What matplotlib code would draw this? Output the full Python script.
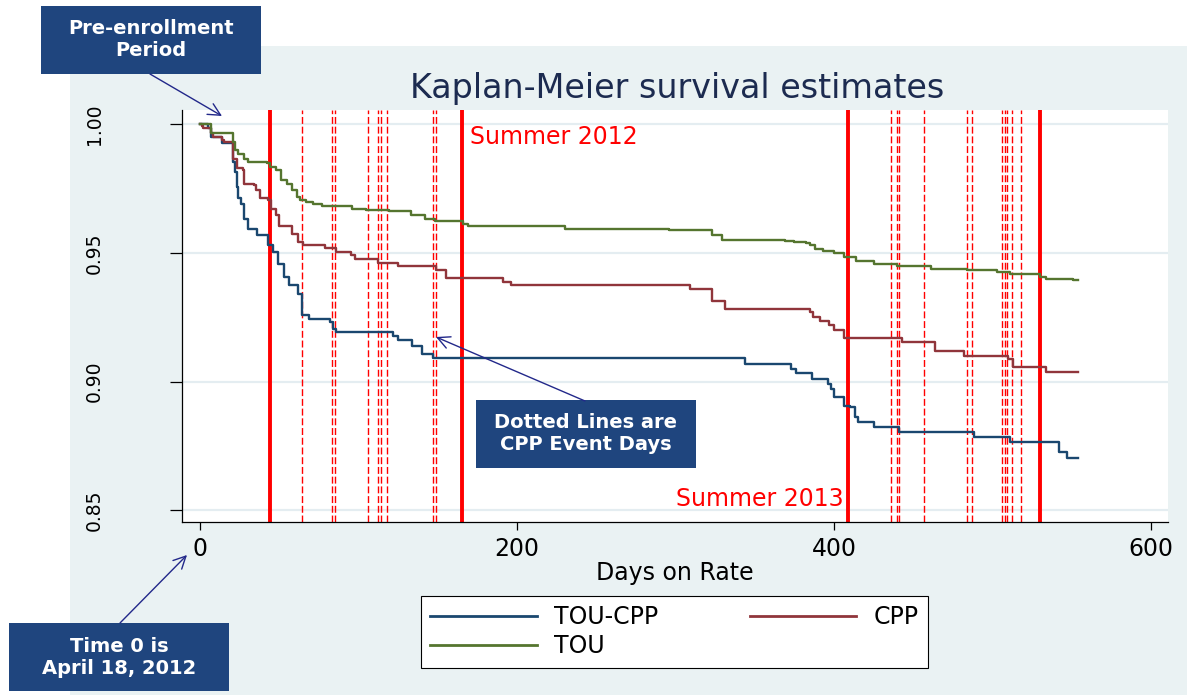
import matplotlib
matplotlib.use("Agg")
import matplotlib.pyplot as plt
from matplotlib.patches import Rectangle, FancyArrowPatch

# Kaplan-Meier step curves (days on rate, survival)
tc_days = [0, 5, 7, 14, 21, 22, 23, 24, 26, 28, 30, 36, 43, 46, 49, 53, 56, 62, 64, 69,
           82, 84, 86, 122, 125, 134, 140, 147, 344, 373, 376, 386, 396, 398, 400, 406,
           410, 413, 415, 425, 441, 488, 511, 542, 547, 554]
tc_surv = [1.0, 0.9983, 0.9951, 0.9925, 0.9853, 0.9815, 0.9756, 0.9711, 0.9691, 0.9633,
           0.9594, 0.9568, 0.9529, 0.9503, 0.9458, 0.9406, 0.9374, 0.9341, 0.9257, 0.9244,
           0.9231, 0.9205, 0.9192, 0.9179, 0.9162, 0.9140, 0.9108, 0.9090, 0.9069, 0.9049,
           0.9034, 0.9010, 0.8991, 0.8971, 0.8939, 0.8907, 0.8900, 0.8861, 0.8842, 0.8825,
           0.8805, 0.8786, 0.8764, 0.8725, 0.8703, 0.8703]

cpp_days = [0, 1, 2, 7, 8, 14, 15, 21, 23, 27, 28, 34, 35, 38, 43, 45, 48, 50, 58, 62,
            65, 79, 86, 95, 98, 112, 125, 149, 155, 191, 196, 309, 323, 331, 385, 387,
            391, 397, 400, 406, 443, 464, 482, 510, 513, 534, 554]
cpp_surv = [1.0, 0.9992, 0.9983, 0.9964, 0.9948, 0.9938, 0.9931, 0.9866, 0.9828, 0.9821,
            0.9769, 0.9763, 0.9743, 0.9711, 0.9704, 0.9672, 0.9646, 0.9603, 0.9575, 0.9542,
            0.9532, 0.9519, 0.9503, 0.9490, 0.9477, 0.9460, 0.9449, 0.9432, 0.9403, 0.9387,
            0.9374, 0.9361, 0.9313, 0.9280, 0.9270, 0.9250, 0.9235, 0.9218, 0.9201, 0.9170,
            0.9153, 0.9118, 0.9101, 0.9088, 0.9056, 0.9036, 0.9036]

tou_days = [0, 7, 21, 22, 24, 28, 30, 42, 44, 48, 51, 55, 58, 61, 63, 67, 71, 77, 96, 105,
            119, 133, 142, 148, 166, 169, 230, 296, 323, 329, 369, 375, 382, 385, 388, 393,
            400, 406, 414, 425, 440, 461, 484, 503, 511, 530, 534, 551, 554]
tou_surv = [1.0, 0.9966, 0.9931, 0.9901, 0.9885, 0.9866, 0.9853, 0.9847, 0.9834, 0.9821,
            0.9782, 0.9769, 0.9743, 0.9717, 0.9704, 0.9698, 0.9689, 0.9681, 0.9672, 0.9668,
            0.9662, 0.9646, 0.9633, 0.9624, 0.9613, 0.9603, 0.9594, 0.9588, 0.9568, 0.9551,
            0.9545, 0.9542, 0.9538, 0.9529, 0.9516, 0.9507, 0.9499, 0.9484, 0.9468, 0.9458,
            0.9449, 0.9438, 0.9432, 0.9425, 0.9416, 0.9406, 0.9399, 0.9393, 0.9393]

# summer start / end (Jun 1, Sep 30) and CPP event days
summer_days = [44, 165, 409, 530]
event_days = [64, 83, 85, 106, 112, 114, 118, 147, 149,
              436, 440, 441, 457, 484, 487, 506, 508, 509, 512, 518]

x_ticks = [0, 200, 400, 600]
y_ticks = [0.85, 0.90, 0.95, 1.00]
y_labels = ["0.85", "0.90", "0.95", "1.00"]

NAVY = "#1a476f"
MAROON = "#90353b"
GREEN = "#55752f"
BOX = "#1f457e"
ARROW = "#22288a"
W, H = 1187, 695


def fx(px):
    return px / W


def fy(py):
    return 1 - py / H


fig = plt.figure(figsize=(W / 100, H / 100), dpi=100, facecolor="white")
fig.add_artist(Rectangle((fx(70), 0), 1 - fx(70), fy(46), transform=fig.transFigure,
                         facecolor="#eaf2f3", edgecolor="none", zorder=-1))

ax = fig.add_axes([fx(182), fy(522), fx(1168) - fx(182), fy(110) - fy(522)])
ax.set_facecolor("white")

for d in event_days:
    ax.axvline(d, color="red", lw=1.0, ls=(0, (5, 2)), zorder=1)
for d in summer_days:
    ax.axvline(d, color="red", lw=2.8, zorder=1.5)

l_tc, = ax.step(tc_days, tc_surv, where="post", color=NAVY, lw=1.7, zorder=3, label="TOU-CPP")
l_cpp, = ax.step(cpp_days, cpp_surv, where="post", color=MAROON, lw=1.7, zorder=3, label="CPP")
l_tou, = ax.step(tou_days, tou_surv, where="post", color=GREEN, lw=1.7, zorder=3, label="TOU")

ax.text(summer_days[1] + 5, 0.9922, "Summer 2012", color="red", fontsize=17, ha="left", va="baseline")
ax.text(summer_days[2] - 3, 0.8518, "Summer 2013", color="red", fontsize=17, ha="right", va="baseline")

ax.set_xlim(-11.4, 610.7)
ax.set_ylim(0.8455, 1.00545)
ax.set_xticks(x_ticks)
ax.set_yticks(y_ticks)
ax.set_yticklabels(y_labels)
ax.yaxis.grid(True, color="#e4edf1", lw=1.6)
ax.set_axisbelow(True)
for s in ["top", "right"]:
    ax.spines[s].set_visible(False)
for s in ["left", "bottom"]:
    ax.spines[s].set_linewidth(0.9)
ax.tick_params(axis="x", length=6, width=0.9, pad=5, labelsize=17)
ax.tick_params(axis="y", length=8.5, width=0.9, pad=48, labelsize=13.5, labelrotation=90)
for lab in ax.get_yticklabels():
    lab.set_va("center")
ax.set_xlabel("Days on Rate", fontsize=17, labelpad=0)

fig.text(fx(677), fy(98), "Kaplan-Meier survival estimates", ha="center", va="baseline",
         fontsize=24, color="#1c2b50")

leg = fig.legend(handles=[l_tc, l_tou, l_cpp], labels=["TOU-CPP", "TOU", "CPP"], ncol=2,
                 loc="upper left", bbox_to_anchor=(fx(421), fy(668), fx(928) - fx(421), fy(596) - fy(668)),
                 mode="expand", fontsize=17, handlelength=4.5, handletextpad=0.75,
                 labelspacing=0.2, borderpad=0.4, borderaxespad=0, fancybox=False,
                 edgecolor="black", framealpha=1)
leg.get_frame().set_linewidth(0.8)
for line in leg.get_lines():
    line.set_linewidth(2)


def note_box(x0, y0, x1, y1, text):
    fig.add_artist(Rectangle((fx(x0), fy(y1)), fx(x1) - fx(x0), fy(y0) - fy(y1),
                             transform=fig.transFigure, facecolor=BOX, edgecolor="none", zorder=4))
    fig.text(fx((x0 + x1) / 2), fy((y0 + y1) / 2), text, ha="center", va="center",
             color="white", fontsize=14, fontweight="bold", zorder=5, linespacing=1.2)


def note_arrow(x0, y0, x1, y1):
    fig.add_artist(FancyArrowPatch((fx(x0), fy(y0)), (fx(x1), fy(y1)), transform=fig.transFigure,
                                   arrowstyle="->", mutation_scale=22, color=ARROW, lw=1,
                                   shrinkA=0, shrinkB=0, zorder=6))


note_box(41, 6, 261, 74, "Pre-enrollment\nPeriod")
note_box(9, 623, 229, 691, "Time 0 is\nApril 18, 2012")
note_box(476, 400, 696, 468, "Dotted Lines are\nCPP Event Days")
note_arrow(150, 74, 222, 116)
note_arrow(120, 623, 187, 555)
note_arrow(585, 401, 436, 337)

fig.savefig("out.png", dpi=100, facecolor=fig.get_facecolor())
